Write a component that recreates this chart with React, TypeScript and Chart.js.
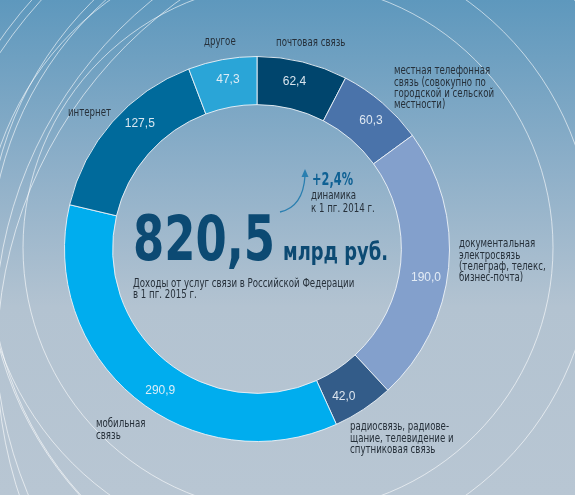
import React, { useEffect, useRef } from "react";
import { Chart, registerables } from "chart.js";

Chart.register(...registerables);

// ---- data ----
const categories = [
  "почтовая связь",
  "местная телефонная связь (совокупно по городской и сельской местности)",
  "документальная электросвязь (телеграф, телекс, бизнес-почта)",
  "радиосвязь, радиовещание, телевидение и спутниковая связь",
  "мобильная связь",
  "интернет",
  "другое",
];
const values = [62.4, 60.3, 190.0, 42.0, 290.9, 127.5, 47.3];
const valueLabels = ["62,4", "60,3", "190,0", "42,0", "290,9", "127,5", "47,3"];
const categoryLines = [
  ["почтовая связь"],
  ["местная телефонная", "связь (совокупно по", "городской и сельской", "местности)"],
  ["документальная", "электросвязь", "(телеграф, телекс,", "бизнес-почта)"],
  ["радиосвязь, радиове-", "щание, телевидение и", "спутниковая связь"],
  ["мобильная", "связь"],
  ["интернет"],
  ["другое"],
];
const totalText = "820,5";
const unitText = "млрд руб.";
const changeText = "+2,4%";
const changeNote = ["динамика", "к 1 пг. 2014 г."];
const caption = ["Доходы от услуг связи в Российской Федерации", "в 1 пг. 2015 г."];

// ---- styles / layout ----
const colors = ["#00456d", "#4a73aa", "#83a0cc", "#335c89", "#00adee", "#006a9b", "#2aa5d7"];
const labelAnchors = [
  [276, 43],
  [394, 71],
  [459, 244],
  [350, 427],
  [96, 424],
  [68, 113],
  [204, 42],
];
const valueFractions = [0.46, 0.54, 0.55, 0.67, 0.46, 0.6, 0.53];
const bgCircles = [
  [288, 247.5, 265],
  [288, 247.5, 305],
  [340, 260, 350],
  [345, 255, 358],
  [370, 300, 445],
  [372, 302, 455],
  [437, 357, 440],
  [420, 330, 425],
];

const NARROW = '"Liberation Sans Narrow", "DejaVu Sans Condensed", "Roboto", sans-serif';
const REG = '"Liberation Sans", Arial, sans-serif';
const SQUEEZE = 0.8;

function fitText(ctx: CanvasRenderingContext2D, text: string, x: number, y: number, w: number) {
  const m = ctx.measureText(text).width;
  ctx.save();
  ctx.translate(x, y);
  ctx.scale(w / m, 1);
  ctx.fillText(text, 0, 0);
  ctx.restore();
}

function squeezeText(ctx: CanvasRenderingContext2D, text: string, x: number, y: number) {
  ctx.save();
  ctx.translate(x, y);
  ctx.scale(SQUEEZE, 1);
  ctx.fillText(text, 0, 0);
  ctx.restore();
}

const decorPlugin = {
  id: "decor",
  beforeDraw(chart: any) {
    const { ctx, width, height } = chart;
    ctx.save();
    const g = ctx.createLinearGradient(0, 0, 0, height);
    g.addColorStop(0, "#5e98bd");
    g.addColorStop(0.35, "#8fb0c9");
    g.addColorStop(0.62, "#b3c3d1");
    g.addColorStop(1, "#b8c6d3");
    ctx.fillStyle = g;
    ctx.fillRect(0, 0, width, height);
    ctx.strokeStyle = "rgba(255,255,255,0.6)";
    ctx.lineWidth = 1;
    for (const [x, y, r] of bgCircles) {
      ctx.beginPath();
      ctx.arc(x, y, r, 0, Math.PI * 2);
      ctx.stroke();
    }
    ctx.restore();
  },
  afterDatasetsDraw(chart: any) {
    const { ctx } = chart;
    const meta = chart.getDatasetMeta(0);
    const arcs = meta.data;
    if (!arcs.length) return;
    const cx = arcs[0].x;
    const cy = arcs[0].y;
    ctx.save();
    // value labels
    ctx.fillStyle = "rgba(235,242,248,0.92)";
    ctx.font = `12px ${REG}`;
    ctx.textAlign = "center";
    ctx.textBaseline = "middle";
    arcs.forEach((arc: any, i: number) => {
      const p = arc.getProps(["startAngle", "endAngle", "innerRadius", "outerRadius"], true);
      const a = p.startAngle + (p.endAngle - p.startAngle) * valueFractions[i];
      const r = (p.innerRadius + p.outerRadius) / 2 + 3;
      ctx.fillText(valueLabels[i], cx + Math.cos(a) * r, cy + Math.sin(a) * r);
    });
    // category labels
    ctx.fillStyle = "#26303a";
    ctx.font = `12px ${NARROW}`;
    ctx.textAlign = "left";
    categoryLines.forEach((lines, i) => {
      const [x, y] = labelAnchors[i];
      lines.forEach((ln, j) => squeezeText(ctx, ln, x, y + j * 11.4));
    });
    // center texts
    ctx.textBaseline = "alphabetic";
    ctx.fillStyle = "#0c4a73";
    ctx.font = `bold 63px ${NARROW}`;
    fitText(ctx, totalText, cx - 124, cy + 11, 142);
    ctx.font = `bold 25px ${NARROW}`;
    fitText(ctx, unitText, cx + 26, cy + 11, 105);
    ctx.fillStyle = "#0f6194";
    ctx.font = `bold 17px ${NARROW}`;
    fitText(ctx, changeText, cx + 55, cy - 64, 41);
    ctx.fillStyle = "#26303a";
    ctx.font = `12px ${NARROW}`;
    squeezeText(ctx, changeNote[0], cx + 54, cy - 50);
    squeezeText(ctx, changeNote[1], cx + 54, cy - 37);
    squeezeText(ctx, caption[0], cx - 124, cy + 38);
    squeezeText(ctx, caption[1], cx - 124, cy + 49);
    // arrow
    ctx.strokeStyle = "#2a7fb0";
    ctx.fillStyle = "#2a7fb0";
    ctx.lineWidth = 1.3;
    ctx.beginPath();
    ctx.moveTo(cx + 23, cy - 37);
    ctx.quadraticCurveTo(cx + 46, cy - 42, cx + 48, cy - 73);
    ctx.stroke();
    ctx.beginPath();
    ctx.moveTo(cx + 48, cy - 80);
    ctx.lineTo(cx + 44.5, cy - 72);
    ctx.lineTo(cx + 51.5, cy - 72);
    ctx.closePath();
    ctx.fill();
    ctx.restore();
  },
};

export default function App() {
  const ref = useRef<HTMLCanvasElement | null>(null);
  useEffect(() => {
    if (!ref.current) return;
    const chart = new Chart(ref.current, {
      type: "doughnut",
      data: {
        labels: categories,
        datasets: [
          {
            data: values,
            backgroundColor: colors,
            borderColor: "rgba(236,242,247,0.9)",
            borderWidth: 1,
          },
        ],
      },
      options: {
        responsive: false,
        animation: false,
        cutout: "75%",
        rotation: 0,
        layout: { padding: { left: 64, right: 125, top: 56, bottom: 53 } },
        plugins: { legend: { display: false }, tooltip: { enabled: false } },
      },
      plugins: [decorPlugin],
    });
    return () => chart.destroy();
  }, []);
  return (
    <div style={{ position: "fixed", left: 0, top: 0, width: 575, height: 495, overflow: "hidden" }}>
      <canvas ref={ref} width={575} height={495} style={{ width: 575, height: 495, display: "block" }} />
    </div>
  );
}
